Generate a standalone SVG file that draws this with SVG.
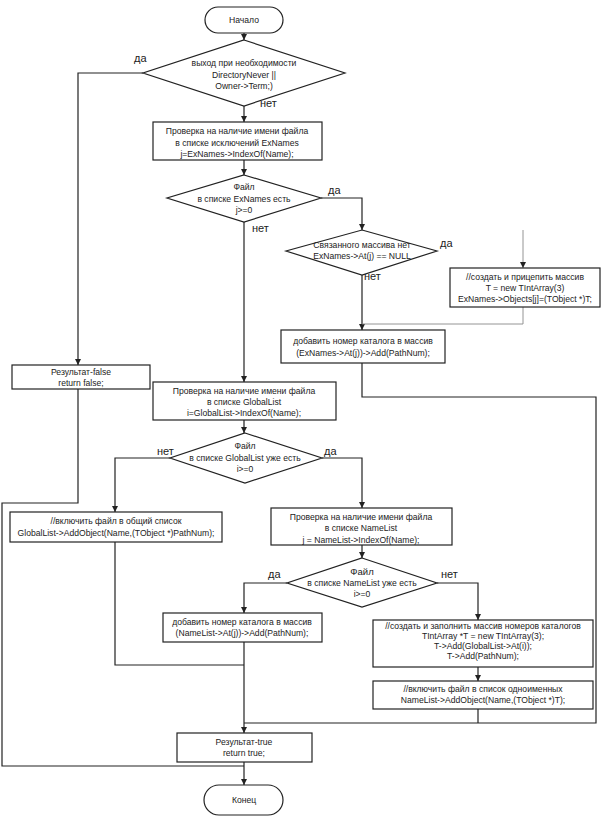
<svg xmlns="http://www.w3.org/2000/svg" width="605" height="819" viewBox="0 0 605 819">
<defs>
<style>
.n{fill:#fff;stroke:#222;stroke-width:1.2}
.t{font-family:"Liberation Sans",Arial,sans-serif;font-size:8.6px;fill:#222;text-anchor:middle}
.l{font-family:"Liberation Sans",Arial,sans-serif;font-size:11px;fill:#222}
.c{fill:none;stroke:#222;stroke-width:1.2}
.g{fill:none;stroke:#888;stroke-width:0.9}
</style>
<marker id="a" markerWidth="7" markerHeight="7" refX="6" refY="3.5" orient="auto" markerUnits="userSpaceOnUse">
<path d="M0,0.5 L6,3.5 L0,6.5 Z" fill="#222"/>
</marker>
</defs>
<rect width="605" height="819" fill="#fff"/>
<g id="connectors">
<path class="c" d="M244,33 V40" marker-end="url(#a)"/>
<path class="c" d="M143,73 H78 V365" marker-end="url(#a)"/>
<path class="c" d="M244,106 V122" marker-end="url(#a)"/>
<path class="c" d="M244,160 V175" marker-end="url(#a)"/>
<path class="c" d="M321,198 H362 V230" marker-end="url(#a)"/>
<path class="c" d="M244,222 V382" marker-end="url(#a)"/>
<path class="c" d="M362,275 V330" marker-end="url(#a)"/>
<path class="g" d="M523,230 V268" marker-end="url(#a)"/>
<path class="g" d="M523,307 V324 H362"/>
<path class="c" d="M362,363 V397 H596 V723 H244"/>
<path class="c" d="M78,389 V503 H2 V766 H244"/>
<path class="c" d="M244,420 V433" marker-end="url(#a)"/>
<path class="c" d="M170,458 H115 V512" marker-end="url(#a)"/>
<path class="c" d="M322,458 H362 V508" marker-end="url(#a)"/>
<path class="c" d="M362,545 V558" marker-end="url(#a)"/>
<path class="c" d="M287,583 H244 V613" marker-end="url(#a)"/>
<path class="c" d="M437,583 H478 V620" marker-end="url(#a)"/>
<path class="c" d="M478,667 V681" marker-end="url(#a)"/>
<path class="c" d="M478,709 V723"/>
<path class="c" d="M115,542 V665 H244"/>
<path class="c" d="M244,642 V733" marker-end="url(#a)"/>
<path class="c" d="M244,762 V785" marker-end="url(#a)"/>
</g>
<g id="start">
<rect class="n" x="205" y="7" width="78" height="26" rx="13"/>
<text class="t" x="244" y="23">Начало</text>
</g>
<g id="d1">
<polygon class="n" points="244,40 345,73 244,106 143,73"/>
<text class="t" x="244" y="66">выход при необходимости</text>
<text class="t" x="244" y="78">DirectoryNever ||</text>
<text class="t" x="244" y="89">Owner-&gt;Term;)</text>
<text class="l" x="134" y="62">да</text>
<text class="l" x="260" y="107">нет</text>
</g>
<g id="b2">
<rect class="n" x="153" y="122" width="169" height="38"/>
<text class="t" x="237" y="134">Проверка на наличие имени файла</text>
<text class="t" x="237" y="146">в списке исключений ExNames</text>
<text class="t" x="237" y="157">j=ExNames-&gt;IndexOf(Name);</text>
</g>
<g id="d2">
<polygon class="n" points="244,175 321,198 244,222 167,198"/>
<text class="t" x="244" y="190">Файл</text>
<text class="t" x="244" y="202">в списке ExNames есть</text>
<text class="t" x="244" y="213">j&gt;=0</text>
<text class="l" x="328" y="194">да</text>
<text class="l" x="252" y="232">нет</text>
</g>
<g id="d3">
<polygon class="n" points="362,230 437,251 362,275 286,251"/>
<text class="t" x="362" y="248">Связанного массива нет</text>
<text class="t" x="362" y="259">ExNames-&gt;At(j) == NULL</text>
<text class="l" x="440" y="247">да</text>
<text class="l" x="364" y="280">нет</text>
</g>
<g id="b3">
<rect class="n" x="450" y="268" width="150" height="39"/>
<text class="t" x="525" y="280">//создать и прицепить массив</text>
<text class="t" x="525" y="291">T = new TIntArray(3)</text>
<text class="t" x="525" y="302">ExNames-&gt;Objects[j]=(TObject *)T;</text>
</g>
<g id="b4">
<rect class="n" x="281" y="330" width="164" height="33"/>
<text class="t" x="363" y="344">добавить номер каталога в массив</text>
<text class="t" x="363" y="356">(ExNames-&gt;At(j))-&gt;Add(PathNum);</text>
</g>
<g id="bfalse">
<rect class="n" x="12" y="365" width="138" height="24"/>
<text class="t" x="81" y="375">Результат-false</text>
<text class="t" x="81" y="386">return false;</text>
</g>
<g id="b5">
<rect class="n" x="153" y="382" width="183" height="38"/>
<text class="t" x="244" y="394">Проверка на наличие имени файла</text>
<text class="t" x="244" y="405">в списке GlobalList</text>
<text class="t" x="244" y="416">i=GlobalList-&gt;IndexOf(Name);</text>
</g>
<g id="d4">
<polygon class="n" points="245,433 322,458 245,483 170,458"/>
<text class="t" x="245" y="449">Файл</text>
<text class="t" x="245" y="461">в списке GlobalList уже есть</text>
<text class="t" x="245" y="472">i&gt;=0</text>
<text class="l" x="157" y="455">нет</text>
<text class="l" x="324" y="455">да</text>
</g>
<g id="b6">
<rect class="n" x="10" y="512" width="212" height="30"/>
<text class="t" x="116" y="524">//включить файл в общий список</text>
<text class="t" x="116" y="536">GlobalList-&gt;AddObject(Name,(TObject *)PathNum);</text>
</g>
<g id="b7">
<rect class="n" x="271" y="508" width="181" height="37"/>
<text class="t" x="361" y="520">Проверка на наличие имени файла</text>
<text class="t" x="361" y="531">в списке NameList</text>
<text class="t" x="361" y="543">j = NameList-&gt;IndexOf(Name);</text>
</g>
<g id="d5">
<polygon class="n" points="362,558 437,583 362,607 287,583"/>
<text class="t" x="362" y="575" style="font-size:9.5px">Файл</text>
<text class="t" x="362" y="586">в списке NameList уже есть</text>
<text class="t" x="362" y="597">i&gt;=0</text>
<text class="l" x="268" y="578">да</text>
<text class="l" x="441" y="578">нет</text>
</g>
<g id="b8">
<rect class="n" x="163" y="613" width="159" height="29"/>
<text class="t" x="242" y="625">добавить номер каталога в массив</text>
<text class="t" x="242" y="636">(NameList-&gt;At(j))-&gt;Add(PathNum);</text>
</g>
<g id="b9">
<rect class="n" x="373" y="620" width="220" height="47"/>
<text class="t" x="483" y="629">//создать и заполнить массив номеров каталогов</text>
<text class="t" x="483" y="639">TIntArray *T = new TIntArray(3);</text>
<text class="t" x="483" y="649">T-&gt;Add(GlobalList-&gt;At(i));</text>
<text class="t" x="483" y="659">T-&gt;Add(PathNum);</text>
</g>
<g id="b10">
<rect class="n" x="373" y="681" width="220" height="28"/>
<text class="t" x="483" y="692">//включить файл в список одноименных</text>
<text class="t" x="483" y="703">NameList-&gt;AddObject(Name,(TObject *)T);</text>
</g>
<g id="btrue">
<rect class="n" x="177" y="733" width="135" height="29"/>
<text class="t" x="244" y="745">Результат-true</text>
<text class="t" x="244" y="756">return true;</text>
</g>
<g id="end">
<rect class="n" x="204" y="785" width="79" height="30" rx="15"/>
<text class="t" x="244" y="803">Конец</text>
</g>
</svg>
